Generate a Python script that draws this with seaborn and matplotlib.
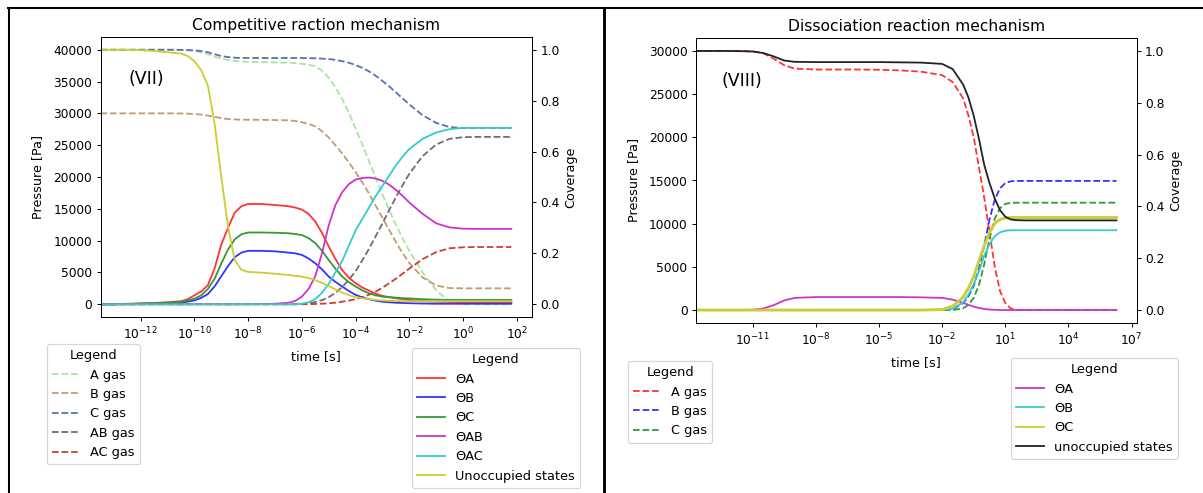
import matplotlib
matplotlib.use("Agg")
import numpy as np
import pandas as pd
import matplotlib.pyplot as plt
import seaborn as sns
from matplotlib.lines import Line2D
from matplotlib.ticker import NullLocator, FixedLocator

# ---------------- Left chart: competitive reaction mechanism ----------------
comp_log_t = [-13.5, -13, -12.5, -12, -11.5, -11, -10.5, -10.25, -10, -9.75, -9.5, -9.25,
              -9, -8.75, -8.5, -8.25, -8, -7.5, -7, -6.5,
              -6.25, -6, -5.75, -5.5, -5.25, -5, -4.75, -4.5, -4.25, -4, -3.75, -3.5, -3.25,
              -3, -2.75, -2.5, -2.25, -2,
              -1.5, -1, -0.5, 0, 0.5, 1, 1.8]

comp_A_gas = [40000, 40000, 40000, 40000, 40000, 40000, 39950, 39900, 39800, 39600, 39300, 38900,
              38600, 38400, 38250, 38150, 38100, 38050, 38000, 37950,
              37900, 37800, 37650, 37400, 36700, 35600, 34100, 32300, 30100, 27600, 25100, 22500, 19900,
              17300, 14800, 12500, 10400, 8400,
              5000, 2200, 400, 0, 0, 0, 0]
comp_B_gas = [30000, 30000, 30000, 30000, 30000, 30000, 29980, 29950, 29900, 29800, 29650, 29450,
              29250, 29100, 29050, 29000, 29000, 28980, 28950, 28900,
              28800, 28600, 28350, 27950, 27200, 26200, 25000, 23700, 22300, 20800, 19150, 17400, 15500,
              13600, 11700, 9800, 8050, 6500,
              4200, 2950, 2550, 2500, 2500, 2500, 2500]
comp_C_gas = [40000, 40000, 40000, 40000, 40000, 40000, 39980, 39950, 39900, 39800, 39600, 39300,
              39000, 38850, 38750, 38700, 38700, 38700, 38700, 38700,
              38700, 38700, 38680, 38650, 38600, 38550, 38400, 38200, 37950, 37600, 37150, 36600, 35900,
              35100, 34250, 33300, 32350, 31400,
              29700, 28500, 27850, 27700, 27700, 27700, 27700]
comp_AB_gas = [0, 0, 0, 0, 0, 0, 0, 0, 0, 0, 0, 0,
               0, 0, 0, 0, 0, 0, 0, 0,
               10, 50, 150, 350, 650, 1100, 1800, 2700, 3850, 5200, 6900, 8700, 10700,
               12700, 14800, 16800, 18700, 20500,
               23300, 25100, 26000, 26250, 26300, 26300, 26300]
comp_AC_gas = [0, 0, 0, 0, 0, 0, 0, 0, 0, 0, 0, 0,
               0, 0, 0, 0, 0, 0, 0, 0,
               0, 0, 20, 50, 90, 150, 250, 400, 580, 800, 1100, 1500, 2000,
               2600, 3300, 4000, 4800, 5600,
               7100, 8200, 8800, 8950, 9000, 9000, 9000]

comp_theta_A = [0.0, 0.0, 0.002, 0.003, 0.005, 0.008, 0.012, 0.02, 0.035, 0.05, 0.075, 0.14,
                0.235, 0.3, 0.36, 0.385, 0.394, 0.394, 0.39, 0.385,
                0.38, 0.372, 0.355, 0.325, 0.28, 0.227, 0.178, 0.135, 0.104, 0.083, 0.066, 0.054, 0.042,
                0.033, 0.028, 0.024, 0.02, 0.017,
                0.012, 0.01, 0.009, 0.008, 0.008, 0.008, 0.008]
comp_theta_B = [0.0, 0.0, 0.001, 0.002, 0.003, 0.005, 0.007, 0.01, 0.015, 0.025, 0.04, 0.07,
                0.11, 0.15, 0.185, 0.203, 0.21, 0.21, 0.208, 0.203,
                0.2, 0.194, 0.18, 0.161, 0.137, 0.109, 0.088, 0.07, 0.052, 0.037, 0.027, 0.02, 0.014,
                0.01, 0.008, 0.006, 0.005, 0.004,
                0.003, 0.002, 0.002, 0.002, 0.002, 0.002, 0.002]
comp_theta_C = [0.0, 0.0, 0.001, 0.003, 0.004, 0.006, 0.01, 0.015, 0.022, 0.035, 0.06, 0.1,
                0.16, 0.215, 0.255, 0.275, 0.282, 0.282, 0.281, 0.279,
                0.276, 0.272, 0.26, 0.24, 0.21, 0.174, 0.14, 0.109, 0.087, 0.07, 0.055, 0.043, 0.035,
                0.03, 0.028, 0.026, 0.024, 0.023,
                0.02, 0.018, 0.017, 0.017, 0.017, 0.017, 0.017]
comp_theta_AB = [0, 0, 0, 0, 0, 0, 0, 0, 0, 0, 0, 0,
                 0, 0, 0, 0, 0, 0.001, 0.002, 0.006,
                 0.013, 0.03, 0.06, 0.11, 0.2, 0.31, 0.39, 0.44, 0.472, 0.49, 0.496, 0.498, 0.494,
                 0.485, 0.47, 0.45, 0.426, 0.4,
                 0.355, 0.318, 0.302, 0.297, 0.296, 0.296, 0.296]
comp_theta_AC = [0, 0, 0, 0, 0, 0, 0, 0, 0, 0, 0, 0,
                 0, 0, 0, 0, 0, 0, 0, 0,
                 0, 0.002, 0.008, 0.02, 0.045, 0.08, 0.125, 0.17, 0.23, 0.29, 0.335, 0.38, 0.425,
                 0.465, 0.505, 0.545, 0.58, 0.61,
                 0.65, 0.675, 0.688, 0.693, 0.693, 0.693, 0.693]
comp_unocc = [1.0, 1.0, 1.0, 0.998, 0.995, 0.99, 0.985, 0.975, 0.955, 0.92, 0.86, 0.71,
              0.5, 0.305, 0.174, 0.135, 0.127, 0.124, 0.12, 0.115,
              0.112, 0.109, 0.103, 0.095, 0.084, 0.072, 0.058, 0.046, 0.036, 0.028, 0.024, 0.02, 0.017,
              0.015, 0.014, 0.013, 0.012, 0.012,
              0.012, 0.012, 0.012, 0.012, 0.012, 0.012, 0.012]

comp_gas_labels = ["A gas", "B gas", "C gas", "AB gas", "AC gas"]
comp_theta_labels = ["\u0398A", "\u0398B", "\u0398C", "\u0398AB", "\u0398AC", "Unoccupied states"]

# ---------------- Right chart: dissociation reaction mechanism ----------------
diss_log_t = [-13.7, -13, -12, -11.5, -11, -10.5, -10, -9.5, -9, -8, -7, -6, -5, -4, -3, -2,
              -1.5, -1, -0.75, -0.5, -0.25, 0, 0.25, 0.5, 0.75, 1, 1.25, 1.5, 2, 2.5, 3, 4, 5, 6.28]

diss_A_gas = [30000, 30000, 30000, 29980, 29950, 29750, 29100, 28350, 27950, 27850, 27850, 27850,
              27820, 27750, 27600, 27200, 26400, 24500, 22500, 20000, 16500, 13000, 9000, 5000,
              2200, 800, 200, 0, 0, 0, 0, 0, 0, 0]
diss_B_gas = [0, 0, 0, 0, 0, 0, 0, 0, 0, 0, 0, 0,
              0, 0, 0, 0, 100, 800, 1600, 2800, 4800, 7500, 10500, 12800,
              14100, 14700, 14900, 14950, 14950, 14950, 14950, 14950, 14950, 14950]
diss_C_gas = [0, 0, 0, 0, 0, 0, 0, 0, 0, 0, 0, 0,
              0, 0, 0, 0, 0, 200, 600, 1400, 2900, 5300, 8300, 10600,
              11800, 12300, 12400, 12430, 12430, 12430, 12430, 12430, 12430, 12430]

diss_theta_A = [0.0, 0.0, 0.0, 0.0, 0.001, 0.006, 0.019, 0.037, 0.047, 0.05, 0.05, 0.05,
                0.05, 0.05, 0.049, 0.047, 0.04, 0.028, 0.02, 0.013, 0.008, 0.004, 0.002, 0.001,
                0, 0, 0, 0, 0, 0, 0, 0, 0, 0]
diss_theta_B = [0, 0, 0, 0, 0, 0, 0, 0, 0, 0, 0, 0,
                0, 0, 0, 0, 0.005, 0.03, 0.06, 0.1, 0.15, 0.21, 0.255, 0.285,
                0.3, 0.306, 0.308, 0.308, 0.308, 0.308, 0.308, 0.308, 0.308, 0.308]
diss_theta_C = [0, 0, 0, 0, 0, 0, 0, 0, 0, 0, 0, 0,
                0, 0, 0, 0.002, 0.015, 0.05, 0.085, 0.13, 0.19, 0.25, 0.3, 0.335,
                0.35, 0.355, 0.357, 0.357, 0.357, 0.357, 0.357, 0.357, 0.357, 0.357]
diss_unocc = [1.0, 1.0, 1.0, 0.999, 0.998, 0.992, 0.979, 0.963, 0.958, 0.957, 0.957, 0.957,
              0.957, 0.956, 0.955, 0.95, 0.93, 0.87, 0.82, 0.75, 0.66, 0.56, 0.49, 0.43,
              0.385, 0.36, 0.35, 0.347, 0.346, 0.346, 0.346, 0.346, 0.346, 0.346]

diss_gas_labels = ["A gas", "B gas", "C gas"]
diss_theta_labels = ["\u0398A", "\u0398B", "\u0398C", "unoccupied states"]

# ---------------- styling ----------------
comp_gas_colors = ["#a8e6a0", "#c49a6c", "#5b6fae", "#7d6670", "#c8412f"]
comp_theta_colors = ["#ff3333", "#3333ff", "#339933", "#cc33cc", "#33cccc", "#cccc33"]
diss_gas_colors = ["#ff3333", "#3333ff", "#339933"]
diss_theta_colors = ["#cc33cc", "#33cccc", "#cccc33", "#222222"]
diss_theta_widths = [1.5, 1.5, 2.4, 1.5]

DPI = 86.4
fig = plt.figure(figsize=(1203 / DPI, 493 / DPI), dpi=DPI)
fig.patch.set_facecolor("white")

W, H = 1203.0, 493.0
ax1 = fig.add_axes([100.7 / W, 1 - 317 / H, 431.3 / W, 280 / H])
ax2 = fig.add_axes([696 / W, 1 - 323 / H, 440.7 / W, 285 / H])


def draw(ax, log_t, gases, gas_labels, gas_colors, thetas, theta_labels, theta_colors, theta_widths):
    t = 10.0 ** np.asarray(log_t, dtype=float)
    axr = ax.twinx()
    gh = []
    for vals, lab, col in zip(gases, gas_labels, gas_colors):
        df = pd.DataFrame({"t": t, "v": vals})
        sns.lineplot(data=df, x="t", y="v", ax=ax, color=col, linestyle="--",
                     linewidth=1.5, legend=False)
        gh.append(Line2D([], [], color=col, linestyle="--", linewidth=1.5, label=lab))
    th = []
    for vals, lab, col, lw in zip(thetas, theta_labels, theta_colors, theta_widths):
        df = pd.DataFrame({"t": t, "v": vals})
        sns.lineplot(data=df, x="t", y="v", ax=axr, color=col, linestyle="-",
                     linewidth=lw, legend=False)
        th.append(Line2D([], [], color=col, linestyle="-", linewidth=1.5, label=lab))
    ax.set_xscale("log")
    return axr, gh, th


axr1, gh1, th1 = draw(ax1, comp_log_t,
                      [comp_A_gas, comp_B_gas, comp_C_gas, comp_AB_gas, comp_AC_gas],
                      comp_gas_labels, comp_gas_colors,
                      [comp_theta_A, comp_theta_B, comp_theta_C, comp_theta_AB, comp_theta_AC, comp_unocc],
                      comp_theta_labels, comp_theta_colors, [1.5] * 6)
axr2, gh2, th2 = draw(ax2, diss_log_t,
                      [diss_A_gas, diss_B_gas, diss_C_gas],
                      diss_gas_labels, diss_gas_colors,
                      [diss_theta_A, diss_theta_B, diss_theta_C, diss_unocc],
                      diss_theta_labels, diss_theta_colors, diss_theta_widths)

# axes limits / ticks
ax1.set_xlim(10 ** -13.49, 10 ** 2.57)
ax1.set_ylim(-2000, 42000)
axr1.set_ylim(-0.05, 1.05)
ax1.xaxis.set_major_locator(FixedLocator([10.0 ** e for e in [-12, -10, -8, -6, -4, -2, 0, 2]]))
ax1.xaxis.set_minor_locator(NullLocator())

ax2.set_xlim(10 ** -13.69, 10 ** 7.24)
ax2.set_ylim(-1500, 31500)
axr2.set_ylim(-0.05, 1.05)
ax2.xaxis.set_major_locator(FixedLocator([10.0 ** e for e in [-11, -8, -5, -2, 1, 4, 7]]))
ax2.xaxis.set_minor_locator(NullLocator())

for ax, axr, title, tag in [(ax1, axr1, "Competitive raction mechanism", "(VII)"),
                            (ax2, axr2, "Dissociation reaction mechanism", "(VIII)")]:
    ax.set_title(title, fontsize=12.9)
    ax.set_xlabel("time [s]", fontsize=10.6, labelpad=7)
    ax.set_ylabel("Pressure [Pa]", fontsize=10.6, labelpad=7.5)
    axr.set_ylabel("Coverage", fontsize=10.6)
    for a in (ax, axr):
        a.tick_params(labelsize=10.2)
    ax.text(0.105, 0.85, tag, transform=ax.transAxes, fontsize=14.5, ha="center", va="center")

# legends
leg_kw = dict(title="Legend", loc="upper left", bbox_transform=fig.transFigure, borderaxespad=0,
              fontsize=10.7, title_fontsize=10.7, labelspacing=0.5, handlelength=2.2)
fig.legend(handles=gh1, bbox_to_anchor=(46.7 / W, 1 - 344 / H), **leg_kw)
fig.legend(handles=th1, bbox_to_anchor=(411.7 / W, 1 - 348 / H), **leg_kw)
fig.legend(handles=gh2, bbox_to_anchor=(627.7 / W, 1 - 361 / H), **leg_kw)
fig.legend(handles=th2, bbox_to_anchor=(1010.8 / W, 1 - 358 / H), **leg_kw)


# table frame lines of the screenshot
def fx(px):
    return px / W


def fy(py):
    return 1 - py / H


fig.add_artist(Line2D([fx(8), fx(1203)], [fy(7.5), fy(7.5)], color="black", linewidth=1.7))
fig.add_artist(Line2D([fx(9), fx(9)], [fy(7.5), fy(493)], color="black", linewidth=1.7))
fig.add_artist(Line2D([fx(604), fx(604)], [fy(7.5), fy(493)], color="black", linewidth=2.4))

fig.savefig("out.png", dpi=DPI, facecolor="white")
